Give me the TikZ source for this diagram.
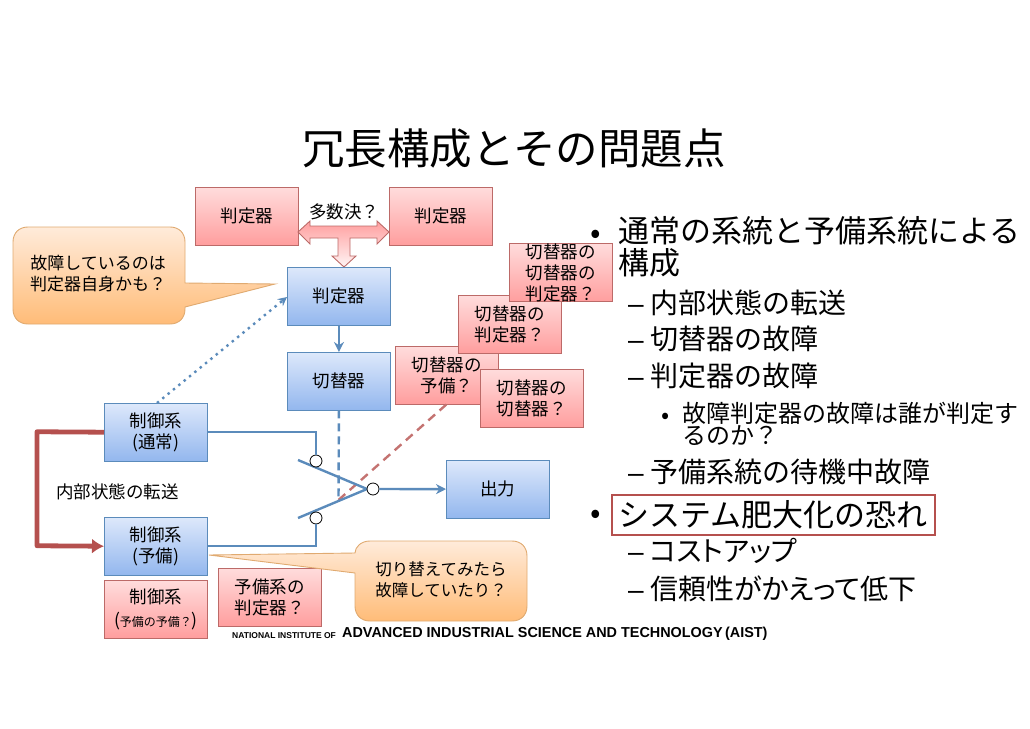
\documentclass[tikz,border=0pt]{standalone}
\usepackage{fontspec}
\setmainfont{Noto Sans CJK JP}
\newfontfamily\latinf{Liberation Sans}
\newfontfamily\paltf[RawFeature=+palt]{Noto Sans CJK JP}
\usetikzlibrary{arrows.meta,calc}
\definecolor{redline}{HTML}{BC6A68}
\definecolor{blueline}{HTML}{5B8BBB}
\definecolor{darkred}{HTML}{B5504E}
\definecolor{redtop}{HTML}{FFDCDC}
\definecolor{redbot}{HTML}{FF9E9E}
\definecolor{bluetop}{HTML}{DDE8FB}
\definecolor{bluebot}{HTML}{93B7EE}
\definecolor{ortop}{HTML}{FFEBDA}
\definecolor{orbot}{HTML}{FFBC78}
\definecolor{orline}{HTML}{E0AA70}
\newcommand{\dashmark}{\makebox[22pt][l]{\latinf –}}
\tikzset{
  x=1pt,y=-1pt,
  base/.style={minimum width=103pt,minimum height=57.5pt,inner sep=0pt,align=center,font=\fontsize{17.5}{21}\selectfont,line width=0.9pt,anchor=north west,text=black},
  redbox/.style={base,draw=redline,top color=redtop,bottom color=redbot},
  bluebox/.style={base,draw=blueline,top color=bluetop,bottom color=bluebot},
  callbox/.style={draw=orline,line width=0.9pt,top color=ortop,bottom color=orbot},
  calltext/.style={align=center,font=\fontsize{16.5}{21}\selectfont,inner sep=0pt,text=black},
  wire/.style={draw=blueline,line width=2.4pt},
  pin/.style={circle,draw=black,fill=white,line width=0.8pt,minimum size=12pt,inner sep=0pt},
  note/.style={font=\fontsize{17.5}{21}\selectfont,inner sep=0pt,text=black},
  lvl1/.style={anchor=west,inner sep=0pt,font=\fontsize{31}{36}\selectfont,text=black},
  lvl2/.style={anchor=west,inner sep=0pt,font=\fontsize{28}{32}\selectfont,text=black},
  lvl3/.style={anchor=west,inner sep=0pt,font=\fontsize{24}{27}\selectfont,text=black}
}
\begin{document}
\begin{tikzpicture}
\useasboundingbox (0,0) rectangle (1030,728);
\node[anchor=center,inner sep=0pt,font=\fontsize{42.5}{48}\selectfont,text=black] (title) at (514,148) {冗長構成とその問題点};
% coordinates
\coordinate (dotfrom) at (157,403);
\coordinate (dotto) at (287,297);
\coordinate (dashjoin) at (338.5,500);
\coordinate (swtop) at (298,460);
\coordinate (swbot) at (298,518);
\coordinate (swtip) at (367,489);
% boxes
\node[redbox] (j1) at (195,187) {判定器};
\node[redbox] (j2) at (389,187) {判定器};
\node[note] (maj) at (344,212) {多数決？};
% block arrow
\path[draw=redline,line width=0.9pt,top color=redbot,bottom color=red!4!white]
  (298,232)--(310,221)--(310,226)--(377,226)--(377,221)--(389,232)--(377,244)--(377,238)--(350,238)--(350,256)--(356,256)--(344,267)--(332,256)--(338,256)--(338,238)--(310,238)--(310,244)--cycle;
\node[bluebox] (j3) at (287,267) {判定器};
\node[bluebox] (sw) at (287,352) {切替器};
\draw[wire,-{Stealth[length=10pt,width=10pt]}] (j3) -- (sw);
\node[redbox] (s1) at (395,346) {切替器の\\予備？};
\node[redbox] (s2) at (458,295) {切替器の\\判定器？};
\node[redbox] (s3) at (509,243) {切替器の\\切替器の\\判定器？};
\node[redbox] (s4) at (480,369) {切替器の\\切替器？};
\node[bluebox] (c1) at (104,403) {制御系\\(通常)};
\node[bluebox] (c2) at (104,517) {制御系\\(予備)};
\node[redbox] (c3) at (104,580) {制御系\\[2pt]({\fontsize{12}{12}\selectfont 予備の予備？})};
\node[redbox] (c4) at (218,568) {予備系の\\判定器？};
\node[bluebox] (out) at (446,460) {出力};
% callouts
\path[callbox] (185,283) -- (275,284) -- (185,307) -- (185,309) .. controls (185,318) and (179,324) .. (170,324) -- (28,324) .. controls (19,324) and (13,318) .. (13,309) -- (13,242) .. controls (13,233) and (19,227) .. (28,227) -- (170,227) .. controls (179,227) and (185,233) .. (185,242) -- cycle;
\node[calltext,font=\fontsize{17}{21}\selectfont] (call1) at (98,274) {故障しているのは\\判定器自身かも？};
\path[callbox] (355,553) -- (209,555) -- (355,573) -- (355,606) .. controls (355,615) and (361,621) .. (370,621) -- (512,621) .. controls (521,621) and (527,615) .. (527,606) -- (527,556) .. controls (527,547) and (521,541) .. (512,541) -- (370,541) .. controls (361,541) and (355,547) .. (355,553) -- cycle;
\node[calltext] (call2) at (441,580) {切り替えてみたら\\故障していたり？};
% connectors
\draw[draw=blueline,line width=2.4pt,dash pattern=on 2.4pt off 4.5pt,-{Stealth[length=9pt,width=9pt]}] (dotfrom) -- (dotto);
\draw[draw=blueline,line width=2.4pt,dash pattern=on 8pt off 5pt] (sw.south) -- (dashjoin);
\draw[draw=darkred!80!white,line width=2.4pt,dash pattern=on 9pt off 6pt] (dashjoin) -- ($(s1.south)+(-0.5,0)$);
\draw[wire] (swtop) -- (swtip) -- (swbot);
\node[pin] (p1) at (316,461) {};
\node[pin] (p2) at (316,518) {};
\node[pin] (p3) at (373,489) {};
\draw[wire] (c1.east) -- (p1 |- c1.east) -- (p1);
\draw[wire] (c2.east) -- (p2 |- c2.east) -- (p2);
\draw[wire,-{Stealth[length=10pt,width=10pt]}] (p3) -- (out);
\draw[draw=darkred,line width=4.8pt,line join=round,-{Latex[length=12pt,width=15pt]}] (c1.west) -- (37,431.75) -- (37,545.75) -- (c2.west);
\node[note,anchor=west] (xfer) at (56,492) {内部状態の転送};
% footer
\node[anchor=west,inner sep=0pt,font=\latinf\bfseries\fontsize{8.5}{10}\selectfont,text=black] (f1) at (232,636) {NATIONAL INSTITUTE OF};
\node[anchor=west,inner sep=0pt,font=\latinf\bfseries\fontsize{14.4}{16}\selectfont,text=black] (f2) at (342,634) {ADVANCED INDUSTRIAL SCIENCE AND TECHNOLOGY\,(AIST)};
% right text
\node[lvl1] (b1) at (590,237) {•};
\node[lvl1] (t1) at (618,231) {通常の系統と予備系統による};
\node[lvl1] (t1b) at (618,263) {構成};
\node[lvl2] (t2) at (628,303) {\dashmark 内部状態の転送};
\node[lvl2] (t3) at (628,339) {\dashmark 切替器の故障};
\node[lvl2] (t4) at (628,376) {\dashmark 判定器の故障};
\node[lvl3] (t5b) at (661,418) {•};
\node[lvl3] (t5) at (682,413) {故障判定器の故障は誰が判定す};
\node[lvl3] (t5c) at (682,436) {るのか？};
\node[lvl2] (t6) at (628,472) {\dashmark 予備系統の待機中故障};
\node[lvl1] (b2) at (590,517) {•};
\node[lvl1,draw=darkred,line width=1.6pt,inner xsep=7pt,inner ysep=0pt,minimum height=40pt] (t7) at (611,515) {システム肥大化の恐れ};
\node[lvl2] (t8) at (628,551) {\dashmark {\paltf コストアップ}};
\node[lvl2] (t9) at (628,589) {\dashmark {\paltf 信頼性がかえって低下}};
\end{tikzpicture}
\end{document}
